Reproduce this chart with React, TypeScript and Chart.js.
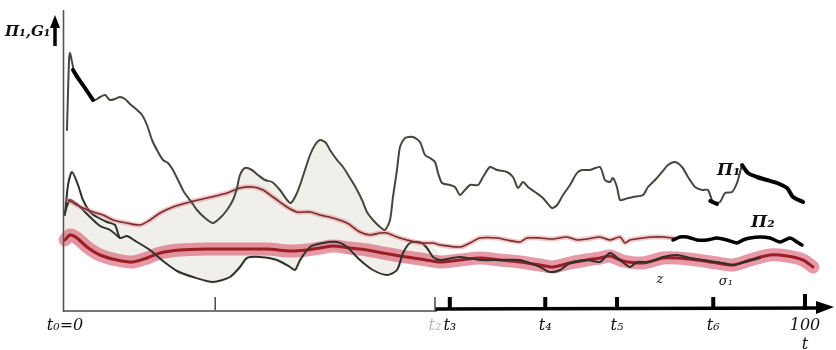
import { useEffect, useRef } from "react";
import { Chart, registerables } from "chart.js";

Chart.register(...registerables);

type P = [number, number];

// x: time t (0..100), y: level (arbitrary units)
const pi1Thin: P[] = [
  [0.27, 181], [0.54, 251], [0.68, 258], [0.95, 249], [1.35, 236], [2.03, 229], [2.7, 223], [3.38, 216],
  [4.05, 211], [4.73, 214], [5.41, 216], [6.08, 211], [6.76, 212], [7.43, 214], [8.11, 212], [8.78, 207],
  [9.59, 202], [10.41, 196], [11.08, 186], [11.76, 171], [12.57, 159], [13.24, 151], [13.92, 148],
  [14.59, 141], [15.27, 131], [16.08, 119], [16.89, 111], [17.84, 101], [18.92, 93], [20.0, 88],
  [20.95, 93], [21.89, 101], [22.7, 111], [23.24, 123], [23.65, 136], [24.32, 143], [25.27, 141],
  [26.08, 136], [27.03, 131], [27.97, 129], [29.05, 121], [30.0, 111], [30.54, 108], [31.22, 116],
  [31.76, 126], [32.43, 141], [33.11, 156], [33.78, 166], [34.46, 171], [35.27, 168], [35.81, 161],
  [36.76, 151], [37.57, 144], [38.51, 133], [39.32, 123], [40.14, 111], [40.81, 99], [41.62, 91],
  [42.57, 84], [43.24, 81], [43.92, 91], [44.32, 114], [44.86, 141], [45.27, 164], [45.95, 173],
  [47.03, 174], [47.97, 169], [48.65, 156], [49.32, 153], [50.0, 149], [50.41, 138], [50.95, 128],
  [52.03, 126], [52.7, 124], [53.38, 116], [54.05, 121], [54.73, 126], [55.81, 126], [56.49, 134],
  [57.43, 144], [58.38, 141], [59.73, 139], [60.54, 134], [61.22, 123], [61.89, 129], [62.57, 124],
  [63.51, 119], [64.59, 113], [65.81, 103], [66.49, 106], [67.3, 116], [68.24, 126], [69.19, 138],
  [69.86, 141], [70.95, 141], [72.3, 144], [72.97, 131], [73.65, 129], [74.05, 133], [74.59, 124],
  [75.0, 111], [75.68, 112], [76.76, 114], [78.11, 116], [78.78, 124], [79.73, 131], [80.68, 139],
  [81.49, 146], [82.43, 149], [83.38, 144], [84.19, 134], [85.14, 124], [86.08, 121], [86.89, 121],
  [87.57, 109], [88.51, 109], [89.19, 118], [90.14, 119], [90.81, 128], [91.22, 139], [91.49, 146],
];
const pi1Bold: P[] = [
  [91.49, 146], [92.3, 138], [93.51, 134], [94.86, 131], [96.22, 128], [97.57, 123], [98.38, 114], [99.73, 109],
];
const pi1StartBold: P[] = [[1.08, 241], [1.76, 233], [2.7, 223], [3.78, 211]];
const pi1Dash: P[] = [[87.2, 110], [88.1, 107]];

const pi2Thin: P[] = [
  [0.41, 111], [1.35, 107], [2.43, 103], [3.78, 99], [5.14, 96], [6.49, 91], [8.38, 88], [10.14, 86],
  [11.49, 91], [12.84, 98], [14.59, 104], [16.89, 109], [19.19, 113], [21.89, 118], [23.65, 123],
  [25.41, 124], [26.76, 121], [28.11, 114], [30.0, 104], [31.35, 99], [33.11, 99], [34.46, 96],
  [36.22, 93], [38.11, 88], [39.86, 79], [41.22, 76], [42.57, 78], [43.51, 78], [44.86, 74], [46.22, 71],
  [47.97, 68], [49.73, 68], [50.68, 66], [53.38, 64], [54.73, 68], [56.08, 73], [58.38, 73], [59.73, 71],
  [61.49, 69], [62.43, 73], [64.19, 73], [65.95, 72], [67.84, 74], [69.19, 71], [70.54, 72], [72.3, 74],
  [73.65, 71], [75.0, 74], [75.68, 68], [76.35, 71], [78.11, 73], [79.46, 74], [80.81, 74], [82.16, 73],
];
const pi2Bold: P[] = [
  [82.16, 71], [83.11, 74], [84.05, 74], [85.41, 71], [86.76, 71], [88.11, 73], [89.46, 71], [90.81, 68],
  [91.62, 71], [92.57, 73], [93.92, 74], [95.27, 73], [96.62, 69], [97.97, 73], [98.92, 69], [99.59, 66],
];

const gBand: P[] = [
  [0, 71], [0.68, 76], [1.62, 73], [2.97, 64], [4.73, 56], [7.03, 51], [9.19, 49], [11.08, 53], [12.84, 58],
  [15.54, 61], [19.19, 62], [22.7, 62], [27.3, 62], [30.41, 60], [32.7, 61], [34.46, 63], [36.22, 65],
  [38.51, 63], [40.81, 61], [42.97, 58], [45.27, 55], [47.97, 52], [50.68, 49], [53.38, 51], [56.08, 53],
  [58.78, 51], [61.49, 49], [64.19, 46], [65.95, 44], [68.24, 48], [70.54, 51], [72.3, 53], [73.65, 55],
  [75.41, 50], [78.11, 48], [80.81, 53], [82.7, 53], [85.41, 51], [88.11, 48], [90.27, 46], [92.57, 51],
  [95.27, 56], [97.57, 55], [99.73, 51], [101.08, 44],
];

const lowerCurve: P[] = [
  [0, 96], [0.41, 126], [0.95, 139], [1.76, 126], [2.43, 111], [3.38, 99], [4.32, 94], [5.68, 89],
  [6.76, 86], [7.43, 73], [8.38, 75], [9.73, 69], [11.49, 61], [13.24, 50], [15.14, 40], [17.3, 34],
  [20.0, 29], [22.3, 34], [23.65, 44], [24.59, 53], [26.35, 54], [28.65, 51], [30.41, 44], [31.08, 41],
  [31.76, 51], [33.11, 64], [34.86, 68], [36.76, 69], [38.11, 64], [39.86, 51], [41.62, 41], [43.51, 36],
  [44.86, 41], [45.68, 58], [46.62, 68], [47.97, 69], [48.92, 63], [49.73, 54], [50.68, 51], [53.38, 54],
  [56.08, 51], [58.78, 51], [61.49, 51], [64.19, 44], [65.54, 39], [66.89, 41], [68.24, 48], [70.54, 51],
  [72.3, 49], [73.65, 58], [75.0, 51], [76.35, 44], [77.3, 49], [79.05, 49], [80.81, 54], [82.7, 56],
  [84.46, 53], [86.22, 51], [88.92, 48], [90.27, 46], [91.89, 49], [93.92, 53],
];
const secondCurve: P[] = [
  [0, 99], [0.68, 111], [1.76, 106], [3.11, 96], [4.73, 85], [6.08, 81], [7.43, 73],
];

const shadeTop: P[] = [
  [0, 113], [0.68, 113], [2.43, 103], [4.73, 98], [6.49, 91], [8.38, 88], [10.14, 86], [11.49, 91],
  [12.84, 98], [14.59, 104], [16.89, 109], [19.19, 113], [21.89, 118], [23.24, 123], [23.65, 136],
  [24.32, 143], [25.27, 141], [27.03, 131], [29.05, 121], [30.54, 108], [31.76, 126], [33.11, 156],
  [34.46, 171], [35.81, 161], [37.57, 144], [39.32, 123], [40.81, 99], [42.57, 83], [43.51, 78],
  [45.27, 74], [47.03, 69], [48.65, 67], [50.27, 61], [50.95, 53],
];
const shadeBottom: P[] = [
  [0, 71], [2.03, 64], [4.73, 55], [8.78, 48], [11.49, 51], [13.24, 49], [15.54, 40], [18.24, 33],
  [20.54, 29], [22.3, 34], [24.59, 51], [26.35, 53], [28.65, 49], [31.08, 41], [33.11, 59], [36.76, 61],
  [39.86, 51], [43.51, 36], [44.86, 41], [45.95, 48], [47.97, 49], [50.27, 49], [50.95, 53],
];

const tickValues = [0, 20.3, 50, 52, 64.9, 74.6, 87.6, 100];
const tickLabels: (string | string[])[] = ["t₀=0", "", "t₂", "t₃", "t₄", "t₅", "t₆", ["100", "t"]];
const boldTicks = [52, 64.9, 74.6, 87.6, 100];

const yAxisTitle = "Π₁,G₁";
const curveLabels: { text: string; x: number; y: number }[] = [
  { text: "Π₁", x: 89.7, y: 140 },
  { text: "Π₂", x: 94.3, y: 88 },
  { text: "z", x: 80.4, y: 31 },
  { text: "σ₁", x: 89.3, y: 29 },
];

const xy = (a: P[]) => a.map(([x, y]) => ({ x, y }));

const line = (data: P[], color: string, width: number, order: number, extra: any = {}) => ({
  data: xy(data),
  borderColor: color,
  borderWidth: width,
  pointRadius: 0,
  tension: 0.25,
  fill: false,
  borderCapStyle: "round",
  borderJoinStyle: "round",
  clip: false,
  order,
  ...extra,
});

const axesPlugin = {
  id: "handAxes",
  afterDatasetsDraw(chart: any) {
    const ctx = chart.ctx as CanvasRenderingContext2D;
    const xs = chart.scales.x;
    const ys = chart.scales.y;
    const x0 = xs.getPixelForValue(0);
    const y0 = ys.getPixelForValue(0);
    ctx.save();
    ctx.lineCap = "butt";
    // y axis
    ctx.strokeStyle = "#55554d";
    ctx.lineWidth = 1.6;
    ctx.beginPath();
    ctx.moveTo(x0 - 1.5, y0 + 1);
    ctx.lineTo(x0 - 1.5, 10);
    ctx.stroke();
    // bold arrow next to the title
    ctx.strokeStyle = "#000";
    ctx.fillStyle = "#000";
    ctx.lineWidth = 3.5;
    ctx.beginPath();
    ctx.moveTo(55, 46);
    ctx.lineTo(55, 26);
    ctx.stroke();
    ctx.beginPath();
    ctx.moveTo(55, 15);
    ctx.lineTo(50, 28);
    ctx.lineTo(60, 28);
    ctx.closePath();
    ctx.fill();
    // x axis thin part
    const xBold = xs.getPixelForValue(50);
    ctx.strokeStyle = "#4a4a44";
    ctx.lineWidth = 1.6;
    ctx.beginPath();
    ctx.moveTo(x0 - 2, y0);
    ctx.lineTo(xBold + 2, y0);
    ctx.stroke();
    // x axis bold part with arrow
    ctx.strokeStyle = "#000";
    ctx.lineWidth = 3.5;
    ctx.beginPath();
    ctx.moveTo(xBold, y0 - 2);
    ctx.lineTo(820, y0 - 3);
    ctx.stroke();
    ctx.beginPath();
    ctx.moveTo(834, y0 - 4);
    ctx.lineTo(816, y0 - 10);
    ctx.lineTo(816, y0 + 3);
    ctx.closePath();
    ctx.fill();
    // ticks
    tickValues.forEach((v) => {
      if (v === 0) return;
      const px = xs.getPixelForValue(v);
      const bold = boldTicks.includes(v);
      ctx.strokeStyle = bold ? "#000" : "#55554d";
      ctx.lineWidth = bold ? 4 : 1.6;
      ctx.beginPath();
      ctx.moveTo(px, v === 100 ? y0 - 17 : y0 - 14);
      ctx.lineTo(px, y0 - 1);
      ctx.stroke();
    });
    // titles
    ctx.fillStyle = "#111";
    ctx.font = 'italic bold 15px "DejaVu Serif"';
    ctx.textBaseline = "alphabetic";
    ctx.textAlign = "left";
    ctx.fillText(yAxisTitle, 5, 36);
    curveLabels.forEach((l) => {
      const px = xs.getPixelForValue(l.x);
      const py = ys.getPixelForValue(l.y);
      ctx.font = l.text.startsWith("Π") ? 'italic bold 17px "DejaVu Serif"' : 'italic 13px "DejaVu Serif"';
      ctx.textAlign = "center";
      ctx.textBaseline = "middle";
      ctx.fillText(l.text, px, py);
    });
    ctx.restore();
  },
};

export default function App() {
  const ref = useRef<HTMLCanvasElement | null>(null);
  useEffect(() => {
    if (!ref.current) return;
    const chart = new Chart(ref.current, {
      type: "line",
      data: {
        datasets: [
          line(shadeTop, "rgba(0,0,0,0)", 0, 100, { fill: 1, backgroundColor: "#f0efea", tension: 0.2 }),
          line(shadeBottom, "rgba(0,0,0,0)", 0, 99, { tension: 0.2 }),
          line(gBand, "rgba(214,70,95,0.55)", 13, 60),
          line(gBand, "#9a1f24", 3, 59),
          line(lowerCurve, "#2f322c", 2, 40),
          line(secondCurve, "#2f322c", 2, 40),
          line(pi2Thin, "rgba(225,130,140,0.45)", 5, 31),
          line(pi2Thin, "#7a2b2b", 1.6, 30),
          line(pi1Thin, "#46463e", 2, 20),
          line(pi1StartBold, "#000", 4, 10),
          line(pi1Bold, "#000", 4, 10),
          line(pi1Dash, "#000", 4, 10),
          line(pi2Bold, "#000", 3.5, 10),
        ],
      },
      options: {
        responsive: false,
        animation: false,
        devicePixelRatio: 1,
        layout: { padding: { left: 65, right: 31, top: 21, bottom: 0 } },
        plugins: { legend: { display: false }, tooltip: { enabled: false } },
        scales: {
          x: {
            type: "linear",
            min: 0,
            max: 100,
            grid: { display: false, drawTicks: false },
            border: { display: false },
            afterFit: (s: any) => {
              s.height = 39;
            },
            afterBuildTicks: (s: any) => {
              s.ticks = tickValues.map((v) => ({ value: v }));
            },
            ticks: {
              autoSkip: false,
              maxRotation: 0,
              padding: 5,
              color: (c: any) => (c.tick && c.tick.value === 50 ? "#b9b9b2" : "#111"),
              font: { family: "DejaVu Serif", style: "italic", size: 16 },
              callback: (v: any) => {
                const i = tickValues.indexOf(Number(v));
                return i >= 0 ? tickLabels[i] : "";
              },
            },
          },
          y: { type: "linear", min: 0, max: 290, display: false },
        },
      },
      plugins: [axesPlugin],
    } as any);
    return () => chart.destroy();
  }, []);
  return (
    <div style={{ position: "absolute", left: 0, top: 0, width: 836, height: 350, background: "#fff" }}>
      <canvas ref={ref} width={836} height={350} style={{ display: "block" }} />
    </div>
  );
}
